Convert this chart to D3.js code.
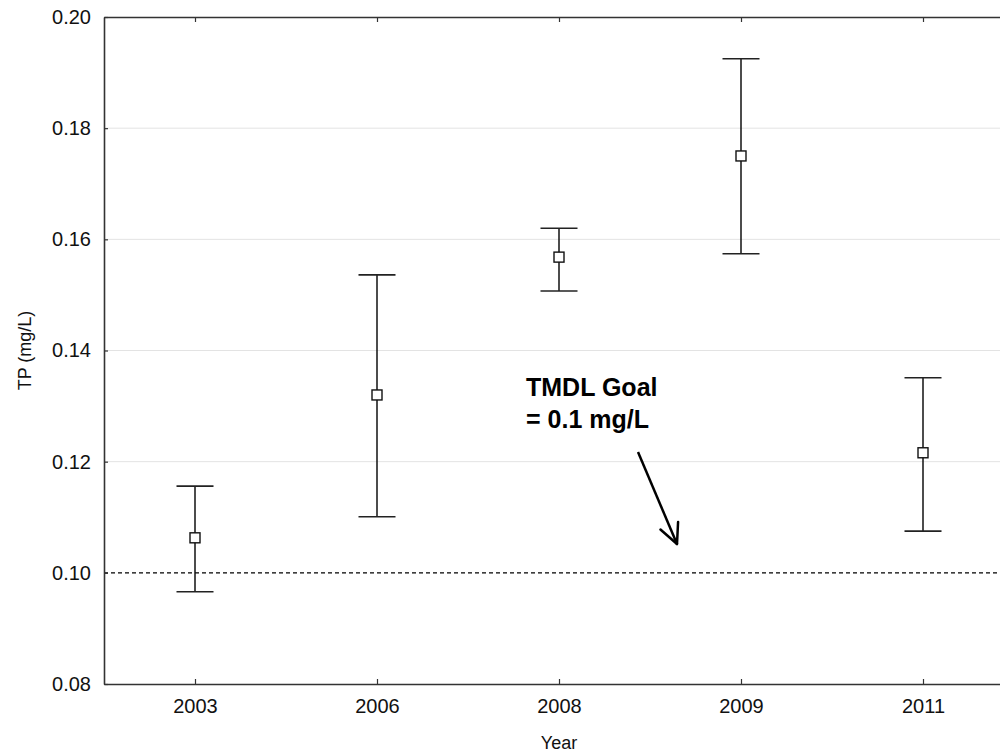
<!DOCTYPE html>
<html>
<head>
<meta charset="utf-8">
<script src="https://cdn.jsdelivr.net/npm/d3@7"></script>
<style>
  body { margin: 0; background: #fff; }
  text { font-family: "Liberation Sans", Arial, sans-serif; }
</style>
</head>
<body>
<svg id="chart" width="1000" height="753"></svg>
<script>
// TP by year, mean with upper / lower bounds
var years = ["2003", "2006", "2008", "2009", "2011"];
var means = [0.1063, 0.1320, 0.1568, 0.1750, 0.1216];
var uppers = [0.1156, 0.1536, 0.1620, 0.1925, 0.1351];
var lowers = [0.0966, 0.1101, 0.1507, 0.1574, 0.1075];
var yTicks = [0.08, 0.10, 0.12, 0.14, 0.16, 0.18, 0.20];
var goal = 0.10;

var svg = d3.select("#chart");

// plot frame (right edge runs past the window)
var plotLeft = 104, plotRight = 1014, plotTop = 17, plotBottom = 684;

var x = d3.scalePoint().domain(years).range([plotLeft, plotRight]).padding(0.5);
var y = d3.scaleLinear().domain([0.08, 0.20]).range([plotBottom, plotTop]);

// gridlines
svg.append("g").selectAll("line")
    .data(yTicks.filter(function(d) { return d > 0.101 && d < 0.199; }))
    .enter().append("line")
    .attr("x1", plotLeft).attr("x2", plotRight)
    .attr("y1", function(d) { return y(d); })
    .attr("y2", function(d) { return y(d); })
    .attr("stroke", "#e3e3e3")
    .attr("stroke-width", 1);

// goal line
svg.append("line")
    .attr("x1", plotLeft).attr("x2", plotRight)
    .attr("y1", y(goal)).attr("y2", y(goal))
    .attr("stroke", "#000")
    .attr("stroke-width", 1.3)
    .attr("stroke-dasharray", "4,3");

// axes: ticks point inside the frame
var yAxis = d3.axisLeft(y).tickValues(yTicks).tickFormat(d3.format(".2f"))
    .tickSizeInner(-4).tickSizeOuter(0).tickPadding(13);
var gy = svg.append("g").attr("transform", "translate(" + plotLeft + ",0)").call(yAxis);

var xAxis = d3.axisBottom(x).tickSizeInner(-5).tickSizeOuter(0).tickPadding(15);
var gx = svg.append("g").attr("transform", "translate(0," + plotBottom + ")").call(xAxis);

var xTop = d3.axisTop(x).tickSizeInner(-5).tickSizeOuter(0).tickFormat("");
var gt = svg.append("g").attr("transform", "translate(0," + plotTop + ")").call(xTop);

[gy, gx, gt].forEach(function(g) {
    g.select(".domain").attr("stroke", "#333").attr("stroke-width", 1.6);
    g.selectAll(".tick line").attr("stroke", "#333").attr("stroke-width", 1.2);
    g.selectAll(".tick text").attr("font-size", "20px").attr("fill", "#111")
        .style("font-family", "'Liberation Sans', Arial, sans-serif");
});

// error bars
var capHalf = 18.5, box = 10;
var bars = svg.append("g").selectAll("g")
    .data(years).enter().append("g");

bars.append("line")
    .attr("x1", function(d) { return x(d); })
    .attr("x2", function(d) { return x(d); })
    .attr("y1", function(d, i) { return y(uppers[i]); })
    .attr("y2", function(d, i) { return y(lowers[i]); })
    .attr("stroke", "#111").attr("stroke-width", 1.5);

bars.append("line")
    .attr("x1", function(d) { return x(d) - capHalf; })
    .attr("x2", function(d) { return x(d) + capHalf; })
    .attr("y1", function(d, i) { return y(uppers[i]); })
    .attr("y2", function(d, i) { return y(uppers[i]); })
    .attr("stroke", "#222").attr("stroke-width", 1.6);

bars.append("line")
    .attr("x1", function(d) { return x(d) - capHalf; })
    .attr("x2", function(d) { return x(d) + capHalf; })
    .attr("y1", function(d, i) { return y(lowers[i]); })
    .attr("y2", function(d, i) { return y(lowers[i]); })
    .attr("stroke", "#222").attr("stroke-width", 1.6);

bars.append("rect")
    .attr("x", function(d) { return x(d) - box / 2; })
    .attr("y", function(d, i) { return y(means[i]) - box / 2; })
    .attr("width", box).attr("height", box)
    .attr("fill", "#fff").attr("stroke", "#111").attr("stroke-width", 1.4);

// annotation
var note = svg.append("text")
    .attr("font-size", "25px").attr("font-weight", "bold").attr("fill", "#000");
note.append("tspan").attr("x", 526).attr("y", 396).text("TMDL Goal");
note.append("tspan").attr("x", 526).attr("y", 428).text("= 0.1 mg/L");

// arrow pointing at the goal line
var ax1 = 638, ay1 = 452, ax2 = 677, ay2 = 544;
svg.append("line")
    .attr("x1", ax1).attr("y1", ay1).attr("x2", ax2).attr("y2", ay2)
    .attr("stroke", "#000").attr("stroke-width", 2.5);
var ang = Math.atan2(ay2 - ay1, ax2 - ax1), headLen = 22, spread = 0.45;
[ang + spread, ang - spread].forEach(function(a) {
    svg.append("line")
        .attr("x1", ax2).attr("y1", ay2)
        .attr("x2", ax2 - headLen * Math.cos(a))
        .attr("y2", ay2 - headLen * Math.sin(a))
        .attr("stroke", "#000").attr("stroke-width", 2.5)
        .attr("stroke-linecap", "round");
});

// axis titles
svg.append("text")
    .attr("x", (plotLeft + plotRight) / 2).attr("y", 749)
    .attr("text-anchor", "middle").attr("font-size", "18px").attr("fill", "#111")
    .text("Year");

svg.append("text")
    .attr("transform", "translate(31," + (plotTop + plotBottom) / 2 + ") rotate(-90)")
    .attr("text-anchor", "middle").attr("font-size", "18px").attr("fill", "#111")
    .text("TP (mg/L)");
</script>
</body>
</html>
